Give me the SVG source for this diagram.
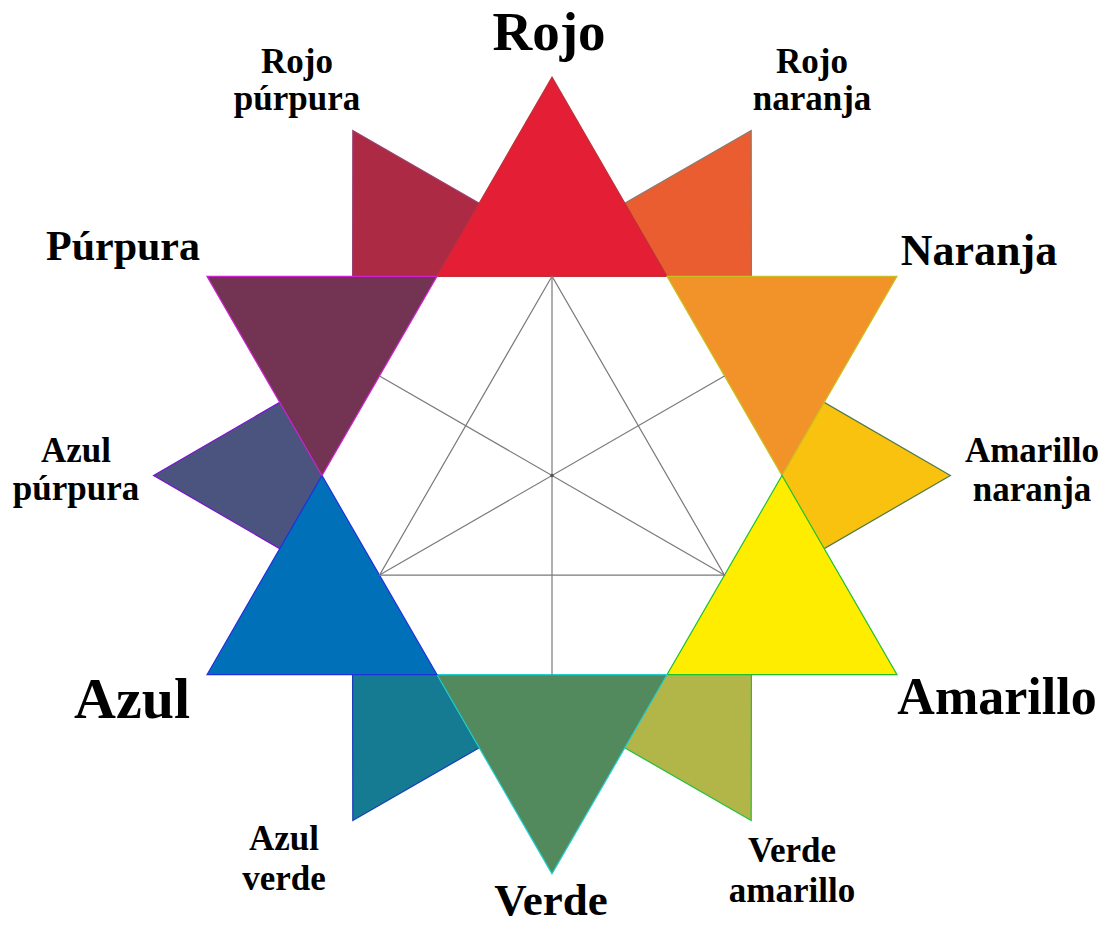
<svg xmlns="http://www.w3.org/2000/svg" width="1110" height="926" viewBox="0 0 1110 926">
<style>
  text { font-family: "Liberation Serif", "Times New Roman", serif; font-weight: bold; fill: #000; text-anchor: middle; }
  .big { font-size: 57px; }
  .mid { font-size: 43px; }
  .sm { font-size: 35px; }
  .tri { stroke-width: 1.2; stroke-linejoin: miter; }
  .grid line, .grid polygon { stroke: #7a7a7a; stroke-width: 1.2; fill: none; }
</style>
<rect width="1110" height="926" fill="#ffffff"/>

<!-- tertiary colours (behind) -->
<g id="amarillo-naranja"><polygon class="tri" points="950.4,475.5 782,377.9 782,573.1" fill="#F9C20F" stroke="#4f7a45"/></g>
<g id="rojo-naranja"><polygon class="tri" points="751.2,130.5 582.5,227.5 751.5,325.1" fill="#E95D30" stroke="#8a7a70"/></g>
<g id="rojo-purpura"><polygon class="tri" points="352.8,130.5 521.5,227.5 352.5,325.1" fill="#AD2A44" stroke="#9a4070"/></g>
<g id="azul-purpura"><polygon class="tri" points="153.6,475.5 322,377.9 322,573.1" fill="#4A547F" stroke="#7a10d0"/></g>
<g id="azul-verde"><polygon class="tri" points="352.8,820.5 352.5,625.9 521.5,723.5" fill="#147B92" stroke="#1a3cb8"/></g>
<g id="verde-amarillo"><polygon class="tri" points="751.2,820.5 751.5,625.9 582.5,723.5" fill="#B2B548" stroke="#20c040"/></g>

<!-- primary / secondary triangles -->
<g id="rojo"><polygon class="tri" points="552,77.1 667,276.3 437,276.3" fill="#E31E35" stroke="#c0303a"/></g>
<g id="naranja"><polygon class="tri" points="897,276.3 782,475.5 667,276.3" fill="#F2932A" stroke="#c8c020"/></g>
<g id="amarillo"><polygon class="tri" points="897,674.7 667,674.7 782,475.5" fill="#FFED00" stroke="#20c030"/></g>
<g id="verde"><polygon class="tri" points="552,873.9 437,674.7 667,674.7" fill="#528A5E" stroke="#20d0d0"/></g>
<g id="azul"><polygon class="tri" points="207,674.7 322,475.5 437,674.7" fill="#0071B9" stroke="#2030e0"/></g>
<g id="purpura"><polygon class="tri" points="207,276.3 437,276.3 322,475.5" fill="#733353" stroke="#d020d0"/></g>

<!-- inner construction lines -->
<g id="connectors" class="grid">
  <polygon points="552,276.3 379.5,575.1 724.5,575.1"/>
  <line x1="552" y1="276.3" x2="552" y2="674.7"/>
  <line x1="379.5" y1="375.9" x2="724.5" y2="575.1"/>
  <line x1="724.5" y1="375.9" x2="379.5" y2="575.1"/>
  <circle cx="552" cy="475.5" r="1.8" fill="#555" stroke="none"/>
</g>

<!-- labels -->
<g id="labels">
  <text class="big" x="549" y="50" style="font-size:55px">Rojo</text>
  <text class="sm" x="297" y="73">Rojo</text>
  <text class="sm" x="297" y="110">púrpura</text>
  <text class="sm" x="812" y="73">Rojo</text>
  <text class="sm" x="812" y="110">naranja</text>
  <text class="mid" x="979" y="265" style="font-size:44px">Naranja</text>
  <text class="mid" x="123" y="260" style="font-size:42px">Púrpura</text>
  <text class="sm" x="76" y="462">Azul</text>
  <text class="sm" x="76" y="500">púrpura</text>
  <text class="sm" x="1032" y="462">Amarillo</text>
  <text class="sm" x="1032" y="501">naranja</text>
  <text class="big" x="132" y="718" style="font-size:58px">Azul</text>
  <text class="big" x="997" y="714" style="font-size:52px">Amarillo</text>
  <text class="sm" x="284" y="850">Azul</text>
  <text class="sm" x="284" y="890">verde</text>
  <text class="sm" x="792" y="862">Verde</text>
  <text class="sm" x="792" y="902">amarillo</text>
  <text class="mid" x="551" y="915" style="font-size:45px">Verde</text>
</g>
</svg>
